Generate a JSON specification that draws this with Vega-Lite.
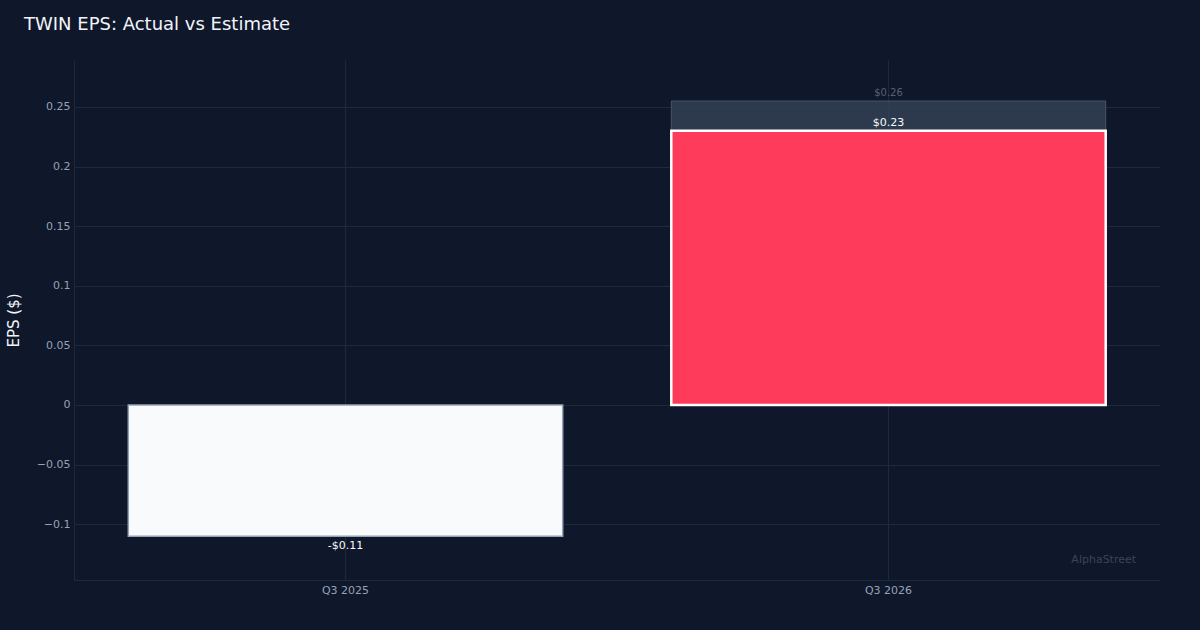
{
  "$schema": "https://vega.github.io/schema/vega-lite/v6.json",
  "autosize": {"type": "none"},
  "width": 1086,
  "height": 520,
  "padding": {"left": 74, "top": 60, "right": 40, "bottom": 50},
  "background": "#0f172a",
  "title": {
    "text": "TWIN EPS: Actual vs Estimate",
    "anchor": "start",
    "frame": "group",
    "dx": -50,
    "offset": 26,
    "font": "DejaVu Sans",
    "fontSize": 18,
    "fontWeight": "normal",
    "color": "#f1f5f9"
  },
  "data": {
    "values": [
      {"quarter": "Q3 2025", "actual": -0.11, "estimate": null, "actualLabel": "-$0.11", "estimateLabel": null, "period": "prior"},
      {"quarter": "Q3 2026", "actual": 0.23, "estimate": 0.255, "actualLabel": "$0.23", "estimateLabel": "$0.26", "period": "latest"}
    ]
  },
  "encoding": {
    "x": {
      "field": "quarter",
      "type": "nominal",
      "title": null,
      "scale": {"paddingInner": 0.2, "paddingOuter": 0.1},
      "axis": {
        "labelAngle": 0,
        "labelColor": "#94a3b8",
        "labelFont": "DejaVu Sans",
        "labelFontSize": 11,
        "labelPadding": 4,
        "ticks": false,
        "grid": true,
        "gridColor": "#1e293b",
        "bandPosition": 0.5,
        "domainColor": "#1e293b"
      }
    }
  },
  "layer": [
    {
      "mark": {"type": "bar", "fill": "#334155", "fillOpacity": 0.85, "stroke": "#475569", "strokeWidth": 1},
      "transform": [{"filter": "datum.estimate != null"}],
      "encoding": {
        "y": {
          "field": "estimate",
          "type": "quantitative",
          "title": "EPS ($)",
          "scale": {"domain": [-0.1468, 0.2894], "nice": false, "zero": false},
          "axis": {
            "values": [-0.1, -0.05, 0, 0.05, 0.1, 0.15, 0.2, 0.25],
            "format": "~g",
            "labelColor": "#94a3b8",
            "labelFont": "DejaVu Sans",
            "labelFontSize": 11,
            "labelPadding": 4,
            "ticks": false,
            "gridColor": "#1e293b",
            "domainColor": "#1e293b",
            "titleColor": "#f1f5f9",
            "titleFont": "DejaVu Sans",
            "titleFontSize": 15,
            "titleFontWeight": "normal",
            "titleBaseline": "middle",
            "titleX": -61
          }
        },
        "y2": {"datum": 0}
      }
    },
    {
      "mark": {"type": "bar"},
      "encoding": {
        "y": {"field": "actual", "type": "quantitative"},
        "y2": {"datum": 0},
        "fill": {
          "field": "period",
          "type": "nominal",
          "legend": null,
          "scale": {"domain": ["prior", "latest"], "range": ["#f8fafc", "#ff3b5c"]}
        },
        "stroke": {
          "field": "period",
          "type": "nominal",
          "legend": null,
          "scale": {"domain": ["prior", "latest"], "range": ["#94a3b8", "#ffffff"]}
        },
        "strokeWidth": {
          "field": "period",
          "type": "nominal",
          "legend": null,
          "scale": {"domain": ["prior", "latest"], "range": [1.5, 2.5]}
        }
      }
    },
    {
      "mark": {"type": "text", "font": "DejaVu Sans", "fontSize": 10, "color": "#556277", "baseline": "middle", "dy": -8},
      "transform": [{"filter": "datum.estimate != null"}],
      "encoding": {
        "y": {"field": "estimate", "type": "quantitative"},
        "text": {"field": "estimateLabel"}
      }
    },
    {
      "mark": {"type": "text", "font": "DejaVu Sans", "fontSize": 11, "color": "#f8fafc", "baseline": "middle", "dy": -8},
      "transform": [{"filter": "datum.actual >= 0"}],
      "encoding": {
        "y": {"field": "actual", "type": "quantitative"},
        "text": {"field": "actualLabel"}
      }
    },
    {
      "mark": {"type": "text", "font": "DejaVu Sans", "fontSize": 11, "color": "#f8fafc", "baseline": "middle", "dy": 10},
      "transform": [{"filter": "datum.actual < 0"}],
      "encoding": {
        "y": {"field": "actual", "type": "quantitative"},
        "text": {"field": "actualLabel"}
      }
    },
    {
      "data": {"values": [{"note": "AlphaStreet", "quarter": "Q3 2026", "level": -0.13}]},
      "mark": {"type": "text", "font": "DejaVu Sans", "fontSize": 11, "color": "#3b4658", "baseline": "middle", "dx": -2},
      "encoding": {
        "x": {"field": "quarter", "type": "nominal", "bandPosition": 1},
        "y": {"field": "level", "type": "quantitative"},
        "text": {"field": "note"}
      }
    }
  ],
  "config": {
    "view": {"stroke": null}
  }
}
